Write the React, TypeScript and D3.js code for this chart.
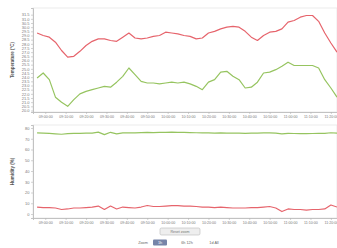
import { useEffect, useRef } from 'react';
import * as d3 from 'd3';

// sample times (HH:MM), one reading every 3 minutes
const sampleTimes = [
  '08:56', '08:59', '09:02', '09:05', '09:08', '09:11', '09:14', '09:17', '09:20', '09:23',
  '09:26', '09:29', '09:32', '09:35', '09:38', '09:41', '09:44', '09:47', '09:50', '09:53',
  '09:56', '09:59', '10:02', '10:05', '10:08', '10:11', '10:14', '10:17', '10:20', '10:23',
  '10:26', '10:29', '10:32', '10:35', '10:38', '10:41', '10:44', '10:47', '10:50', '10:53',
  '10:56', '10:59', '11:02', '11:05', '11:08', '11:11', '11:14', '11:17', '11:20', '11:23',
];

// top panel: temperature of the two sensors
const tempA = [
  29.3, 29.0, 28.8, 28.2, 27.2, 26.4, 26.5, 27.1, 27.8, 28.3,
  28.6, 28.6, 28.4, 28.3, 28.8, 29.3, 28.7, 28.6, 28.7, 28.9,
  29.0, 29.4, 29.3, 29.2, 29.0, 28.9, 28.6, 28.7, 29.3, 29.5,
  29.8, 30.0, 30.1, 30.0, 29.5, 28.8, 28.4, 29.0, 29.4, 29.5,
  29.8, 30.6, 30.8, 31.2, 31.4, 31.4, 30.7, 29.3, 28.1, 27.0,
];
const tempB = [
  23.9, 24.5, 23.7, 21.6, 21.0, 20.5, 21.3, 22.0, 22.3, 22.5,
  22.7, 22.9, 22.8, 23.4, 24.1, 25.1, 24.3, 23.5, 23.3, 23.3,
  23.2, 23.3, 23.4, 23.3, 23.4, 23.2, 22.9, 22.5, 23.4, 23.7,
  24.6, 24.7, 24.1, 23.7, 22.7, 22.8, 23.4, 24.5, 24.6, 24.9,
  25.3, 25.8, 25.4, 25.4, 25.4, 25.4, 25.1, 23.7, 22.7, 21.6,
];

// bottom panel: humidity
const humA = [
  75.4, 75.2, 75.0, 74.6, 74.2, 74.8, 75.0, 75.1, 75.2, 75.3,
  76.2, 73.8, 76.0, 74.5, 75.4, 75.6, 75.5, 75.7, 75.9, 75.8,
  75.9, 76.0, 76.1, 76.0, 75.9, 75.8, 75.6, 75.5, 75.4, 75.3,
  75.4, 75.3, 75.2, 75.2, 75.1, 75.2, 75.3, 75.4, 75.5, 75.3,
  74.6, 75.0, 74.9, 74.8, 74.8, 74.9, 75.0, 75.1, 75.6, 75.2,
];
const humB = [
  6.5, 6.0, 6.0, 5.6, 4.2, 4.7, 5.6, 5.6, 6.0, 6.5,
  7.4, 4.2, 7.4, 4.7, 6.5, 6.0, 5.6, 6.5, 7.9, 7.0,
  7.0, 7.4, 7.9, 7.9, 7.4, 7.4, 7.0, 6.5, 6.5, 6.0,
  6.5, 6.0, 5.6, 5.6, 5.6, 6.0, 6.0, 6.5, 7.0, 5.6,
  2.3, 4.7, 4.2, 4.2, 3.7, 4.2, 4.2, 4.7, 8.4, 6.5,
];

const xTickLabels = [
  '09:00:00', '09:10:00', '09:20:00', '09:30:00', '09:40:00', '09:50:00', '10:00:00', '10:10:00',
  '10:20:00', '10:30:00', '10:40:00', '10:50:00', '11:00:00', '11:10:00', '11:20:00',
];
const topYTicks = [
  20.0, 20.5, 21.0, 21.5, 22.0, 22.5, 23.0, 23.5, 24.0, 24.5, 25.0, 25.5,
  26.0, 26.5, 27.0, 27.5, 28.0, 28.5, 29.0, 29.5, 30.0, 30.5, 31.0, 31.5,
];
const bottomYTicks = [0, 10, 20, 30, 40, 50, 60, 70, 80];

const RED = '#e6646c';
const GREEN = '#96c460';

export default function App() {
  const svgRef = useRef<SVGSVGElement>(null);

  useEffect(() => {
    if (!svgRef.current) return;
    const svg = d3.select(svgRef.current);
    svg.selectAll('*').remove();

    const width = 337;
    const height = 248;
    svg.attr('width', width).attr('height', height);
    svg.append('rect').attr('width', width).attr('height', height).attr('fill', '#fff');

    const parse = d3.timeParse('%H:%M');
    const parseTick = d3.timeParse('%H:%M:%S');
    const times = sampleTimes.map((t) => parse(t) as Date);

    const x = d3
      .scaleTime()
      .domain([parse('08:54') as Date, parse('11:23') as Date])
      .range([33, 337]);

    const font = 'Liberation Sans, Arial, sans-serif';

    const panels = [
      {
        top: 8, bottom: 112, domain: [19.82, 32.3], ticks: topYTicks,
        fmt: (d: number) => d.toFixed(1), title: 'Temperature (°C)',
        series: [
          { values: tempA, color: RED },
          { values: tempB, color: GREEN },
        ],
      },
      {
        top: 125, bottom: 218, domain: [-3.7, 82.8], ticks: bottomYTicks,
        fmt: (d: number) => d.toFixed(0), title: 'Humidity (%)',
        series: [
          { values: humA, color: GREEN },
          { values: humB, color: RED },
        ],
      },
    ];

    panels.forEach((p) => {
      const y = d3.scaleLinear().domain(p.domain).range([p.bottom, p.top]);

      // plot frame
      svg.append('rect')
        .attr('x', 33).attr('y', p.top)
        .attr('width', 304).attr('height', p.bottom - p.top)
        .attr('fill', '#fff').attr('stroke', '#e6e6e6').attr('stroke-width', 0.8);

      // y axis
      const ya = svg.append('g')
        .attr('transform', 'translate(33,0)')
        .call(d3.axisLeft(y).tickValues(p.ticks).tickFormat((d) => p.fmt(d as number)).tickSize(2).tickPadding(1.5));
      ya.select('.domain').attr('stroke', '#b5b5b5').attr('stroke-width', 0.8);
      ya.selectAll('.tick line').attr('stroke', '#b5b5b5').attr('stroke-width', 0.6);
      ya.selectAll('text').attr('fill', '#777').attr('font-size', '4px').attr('font-family', font);

      // x axis
      const xa = svg.append('g')
        .attr('transform', `translate(0,${p.bottom})`)
        .call(
          d3.axisBottom(x)
            .tickValues(xTickLabels.map((t) => parseTick(t) as Date))
            .tickFormat((d) => d3.timeFormat('%H:%M:%S')(d as Date))
            .tickSize(2).tickPadding(1.5),
        );
      xa.select('.domain').attr('stroke', '#b5b5b5').attr('stroke-width', 0.8);
      xa.selectAll('.tick line').attr('stroke', '#b5b5b5').attr('stroke-width', 0.6);
      xa.selectAll('text').attr('fill', '#777').attr('font-size', '3.6px').attr('font-family', font);

      // y title
      svg.append('text')
        .attr('transform', `translate(14,${(p.top + p.bottom) / 2}) rotate(-90)`)
        .attr('text-anchor', 'middle')
        .attr('fill', '#555')
        .attr('font-size', '4.5px')
        .attr('font-weight', 'bold')
        .attr('font-family', font)
        .text(p.title);

      const line = d3.line<number>()
        .x((_, i) => x(times[i]))
        .y((d) => y(d));

      p.series.forEach((s) => {
        svg.append('path')
          .datum(s.values)
          .attr('d', line)
          .attr('fill', 'none')
          .attr('stroke', s.color)
          .attr('stroke-width', 1.2)
          .attr('stroke-linejoin', 'round');
      });
    });

    // navigator button
    svg.append('rect')
      .attr('x', 160).attr('y', 228).attr('width', 40).attr('height', 7).attr('rx', 1.5)
      .attr('fill', '#eeeeee').attr('stroke', '#bbbbbb').attr('stroke-width', 0.6);
    svg.append('text')
      .attr('x', 180).attr('y', 232.8).attr('text-anchor', 'middle')
      .attr('fill', '#777').attr('font-size', '3.6px').attr('font-family', font)
      .text('Reset zoom');

    // range selector row
    const ry = 244;
    svg.append('text')
      .attr('x', 143).attr('y', ry).attr('text-anchor', 'middle')
      .attr('fill', '#666').attr('font-size', '3.8px').attr('font-family', font)
      .text('Zoom');
    svg.append('rect')
      .attr('x', 153).attr('y', 239.5).attr('width', 14).attr('height', 6).attr('rx', 1)
      .attr('fill', '#7684a8');
    svg.append('text')
      .attr('x', 160).attr('y', ry).attr('text-anchor', 'middle')
      .attr('fill', '#fff').attr('font-size', '3.8px').attr('font-family', font)
      .text('1h');
    svg.append('text')
      .attr('x', 187).attr('y', ry).attr('text-anchor', 'middle')
      .attr('fill', '#666').attr('font-size', '3.8px').attr('font-family', font)
      .text('6h    12h');
    svg.append('text')
      .attr('x', 214).attr('y', ry).attr('text-anchor', 'middle')
      .attr('fill', '#666').attr('font-size', '3.8px').attr('font-family', font)
      .text('1d   All');
  }, []);

  return <svg ref={svgRef} style={{ position: 'absolute', left: 0, top: 0 }} />;
}
